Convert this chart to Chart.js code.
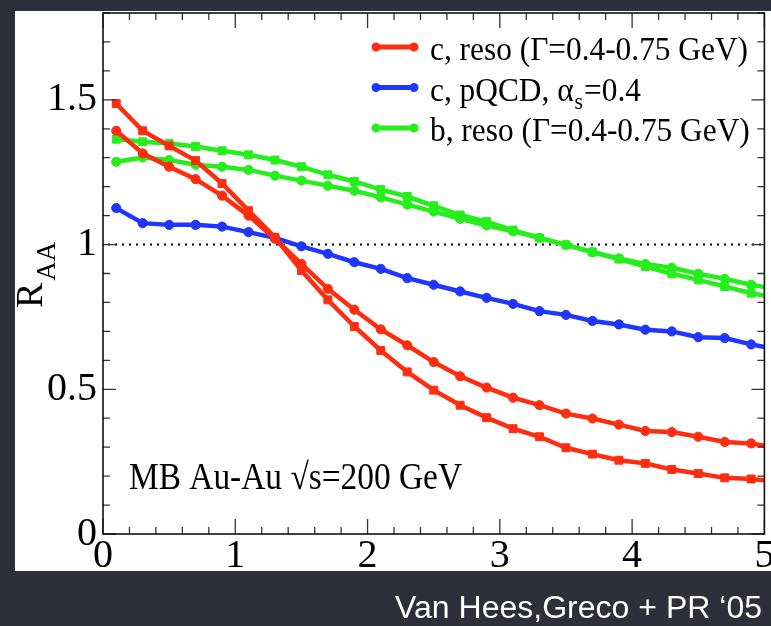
<!DOCTYPE html>
<html><head><meta charset="utf-8">
<script src="https://cdn.jsdelivr.net/npm/chart.js@4.4.1/dist/chart.umd.min.js"></script>
<style>html,body{margin:0;padding:0;background:#2e2f3a;overflow:hidden}canvas{display:block}</style>
</head><body>
<canvas id="c" width="771" height="626"></canvas>
<script>
// ---- data ----
const xValues = [0.1,0.3,0.5,0.7,0.9,1.1,1.3,1.5,1.7,1.9,2.1,2.3,2.5,2.7,2.9,3.1,3.3,3.5,3.7,3.9,4.1,4.3,4.5,4.7,4.9,5.0];
const redSquares   = [1.487,1.393,1.341,1.290,1.211,1.117,1.025,0.910,0.809,0.717,0.634,0.560,0.497,0.445,0.402,0.364,0.336,0.298,0.276,0.255,0.244,0.223,0.209,0.194,0.190,0.186];
const redCircles   = [1.393,1.315,1.269,1.226,1.169,1.100,1.020,0.933,0.847,0.775,0.707,0.652,0.594,0.545,0.506,0.471,0.445,0.416,0.399,0.378,0.356,0.352,0.336,0.318,0.313,0.305];
const blueCircles  = [1.126,1.074,1.068,1.068,1.062,1.043,1.023,0.994,0.968,0.939,0.916,0.884,0.861,0.838,0.816,0.795,0.770,0.757,0.736,0.724,0.706,0.700,0.680,0.677,0.655,0.646];
const greenSquares = [1.364,1.355,1.349,1.339,1.324,1.310,1.292,1.269,1.241,1.218,1.190,1.166,1.134,1.102,1.079,1.050,1.023,0.999,0.974,0.950,0.924,0.899,0.878,0.855,0.832,0.824];
const greenCircles = [1.286,1.301,1.292,1.276,1.269,1.258,1.238,1.221,1.203,1.186,1.163,1.138,1.114,1.089,1.066,1.046,1.023,0.999,0.974,0.952,0.933,0.920,0.899,0.882,0.861,0.853];
const xTickValues = [0,1,2,3,4,5];
const xTickLabels = ['0','1','2','3','4','5'];
const yTickValues = [0,0.5,1,1.5];
const yTickLabels = ['0','0.5','1','1.5'];
const refLineValue = 1;
const legendLabels = ['c, reso (\u0393=0.4-0.75 GeV)', 'c, pQCD, \u03b1', 'b, reso (\u0393=0.4-0.75 GeV)'];
const legendSub = ['', 's', ''];
const legendTail = ['', '=0.4', ''];
const yTitle = 'R';
const yTitleSub = 'AA';
const annotation = 'MB Au-Au \u221As=200 GeV';
const caption = 'Van Hees,Greco + PR \u201805';

// ---- styles ----
const RED = '#ff2d10', BLUE = '#1e36ff', GREEN = '#26ee1c';
const SERIF = '"Liberation Serif", "Times New Roman", serif';
const last = xValues.length - 1;
function pts(arr){ return arr.map((v,i)=>({x:xValues[i], y:v})); }
function ds(label, arr, color, style){
  const r = style === 'rect' ? 5.6 : 4.6;
  return {label, data: pts(arr), showLine:true, borderColor:color, backgroundColor:color,
    borderWidth:4.5, pointStyle:style, pointRadius:(c)=>c.dataIndex===last?0:r,
    pointBackgroundColor:color, pointBorderColor:color, pointBorderWidth:1,
    pointHoverRadius:0, tension:0, clip:0};
}

const deco = {
  id:'deco',
  beforeDraw(chart){
    const ctx = chart.ctx;
    ctx.save();
    ctx.fillStyle = '#2e2f3a'; ctx.fillRect(0,0,chart.width,chart.height);
    ctx.fillStyle = '#ffffff'; ctx.fillRect(15,11,chart.width-15,560);
    ctx.restore();
  },
  beforeDatasetsDraw(chart){
    const {ctx, chartArea:a, scales:{y}} = chart;
    const yp = y.getPixelForValue(refLineValue);
    ctx.save();
    ctx.strokeStyle = '#000'; ctx.lineWidth = 2; ctx.setLineDash([2,5]);
    ctx.beginPath(); ctx.moveTo(a.left+5, yp); ctx.lineTo(a.right, yp); ctx.stroke();
    ctx.restore();
  },
  afterDatasetsDraw(chart){
    const {ctx, chartArea:a, scales:{x,y}} = chart;
    ctx.save();
    ctx.strokeStyle = '#333'; ctx.lineWidth = 1.3;
    ctx.beginPath();
    for (let i=0;i<=25;i++){
      const px = x.getPixelForValue(i*0.2); const L = i%5===0?15:7;
      ctx.moveTo(px,a.bottom); ctx.lineTo(px,a.bottom-L);
      ctx.moveTo(px,a.top); ctx.lineTo(px,a.top+L);
    }
    for (let i=0;i<=18;i++){
      const py = y.getPixelForValue(i*0.1); const L = i%5===0?13:7;
      ctx.moveTo(a.left,py); ctx.lineTo(a.left+L,py);
      ctx.moveTo(a.right,py); ctx.lineTo(a.right-L,py);
    }
    ctx.stroke();
    ctx.strokeStyle = '#111'; ctx.lineWidth = 1.6;
    ctx.strokeRect(a.left, a.top, a.right-a.left, a.bottom-a.top);
    ctx.restore();
  },
  afterDraw(chart){
    const ctx = chart.ctx;
    ctx.save();
    ctx.fillStyle = '#000'; ctx.textBaseline = 'alphabetic'; ctx.textAlign = 'left';
    // legend
    const colors = [RED, BLUE, GREEN];
    ctx.font = '33px ' + SERIF;
    const sx = 318 / ctx.measureText(legendLabels[0]).width;
    for (let k=0;k<3;k++){
      const ly = 47 + k*40.5;
      ctx.strokeStyle = colors[k]; ctx.fillStyle = colors[k]; ctx.lineWidth = 5;
      ctx.beginPath(); ctx.moveTo(376,ly); ctx.lineTo(414,ly); ctx.stroke();
      ctx.beginPath(); ctx.arc(376,ly,4.5,0,Math.PI*2); ctx.arc(414,ly,4.5,0,Math.PI*2); ctx.fill();
      ctx.fillStyle = '#000';
      ctx.save(); ctx.translate(430, ly+13); ctx.scale(sx,1);
      ctx.font = '33px ' + SERIF;
      ctx.fillText(legendLabels[k],0,0);
      let w = ctx.measureText(legendLabels[k]).width;
      if (legendSub[k]){
        ctx.font = '23px ' + SERIF;
        ctx.fillText(legendSub[k], w+1, 8);
        w += ctx.measureText(legendSub[k]).width + 2;
        ctx.font = '33px ' + SERIF;
        ctx.fillText(legendTail[k], w, 0);
      }
      ctx.restore();
    }
    // annotation
    ctx.save(); ctx.font = '34px ' + SERIF;
    const aw = ctx.measureText(annotation).width;
    ctx.translate(129, 489); ctx.scale(333/aw, 1.1);
    ctx.fillText(annotation,0,0); ctx.restore();
    // y title
    ctx.save(); ctx.translate(42, 308); ctx.rotate(-Math.PI/2);
    ctx.font = '38px ' + SERIF; ctx.fillText(yTitle,0,0);
    const rw = ctx.measureText(yTitle).width;
    ctx.font = '27px ' + SERIF; ctx.fillText(yTitleSub, rw+2, 13);
    ctx.restore();
    // caption
    ctx.save(); ctx.fillStyle = '#ffffff';
    ctx.font = '31px "Liberation Sans", Arial, sans-serif';
    const cw = ctx.measureText(caption).width;
    ctx.translate(395, 618); ctx.scale(367/cw, 1);
    ctx.fillText(caption,0,0); ctx.restore();
    ctx.restore();
  }
};

const tickFont = {family:'"Liberation Serif", "Times New Roman", serif', size:40, lineHeight:1};
new Chart(document.getElementById('c'), {
  type:'scatter',
  data:{datasets:[
    ds('c, reso (squares)', redSquares, RED, 'rect'),
    ds('c, reso (circles)', redCircles, RED, 'circle'),
    ds('c, pQCD', blueCircles, BLUE, 'circle'),
    ds('b, reso (squares)', greenSquares, GREEN, 'rect'),
    ds('b, reso (circles)', greenCircles, GREEN, 'circle')
  ]},
  options:{
    responsive:false, devicePixelRatio:1, animation:false,
    layout:{padding:{left:0, top:13, right:6, bottom:0}},
    plugins:{legend:{display:false}, tooltip:{enabled:false}},
    events:[],
    scales:{
      x:{type:'linear', min:0, max:5,
        grid:{display:false, drawTicks:false}, border:{display:false},
        afterBuildTicks:(s)=>{ s.ticks = xTickValues.map(v=>({value:v})); },
        afterFit:(s)=>{ s.height = 92; s.paddingLeft = 0; s.paddingRight = 0; },
        ticks:{font:tickFont, color:'#000', padding:2, maxRotation:0, autoSkip:false,
          callback:(v)=>xTickLabels[xTickValues.indexOf(v)]}},
      y:{type:'linear', min:0, max:1.8,
        grid:{display:false, drawTicks:false}, border:{display:false},
        afterBuildTicks:(s)=>{ s.ticks = yTickValues.map(v=>({value:v})); },
        afterFit:(s)=>{ s.width = 103; s.paddingTop = 0; s.paddingBottom = 0; },
        ticks:{font:tickFont, color:'#000', padding:6, autoSkip:false,
          callback:(v)=>yTickLabels[yTickValues.indexOf(v)]}}
    }
  },
  plugins:[deco]
});
</script>
</body></html>
